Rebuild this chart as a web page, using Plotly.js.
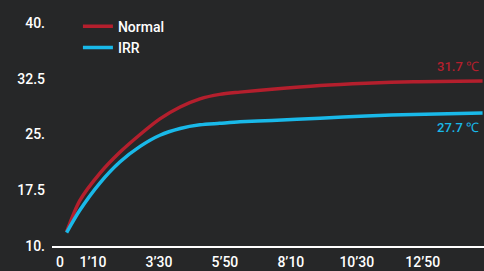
<!DOCTYPE html>
<html>
<head>
<meta charset="utf-8">
<script src="https://cdn.plot.ly/plotly-3.0.1.min.js"></script>
<style>
html,body{margin:0;padding:0;background:#262728;}
#chart{width:484px;height:271px;}
</style>
</head>
<body>
<div id="chart"></div>
<script>
// time in seconds
const timeNormal = [14, 42, 85, 127, 170, 212, 255, 297, 339, 382, 450, 552, 650, 750, 897];
const tempNormal = [11.9, 16.1, 19.8, 22.6, 25.0, 27.1, 28.7, 29.8, 30.4, 30.7, 31.1, 31.6, 31.9, 32.1, 32.2];
const timeIRR = [14, 42, 85, 127, 170, 212, 255, 297, 339, 382, 450, 552, 650, 750, 897];
const tempIRR = [11.8, 14.8, 18.5, 21.3, 23.4, 24.9, 25.8, 26.3, 26.5, 26.7, 26.9, 27.2, 27.5, 27.7, 27.9];
const seriesNames = ['Normal', 'IRR'];
const xTickVals = [0, 70, 210, 350, 490, 630, 770];
const xTickText = ['0', '1’10', '3’30', '5’50', '8’10', '10’30', '12’50'];
const yTickVals = [10, 17.5, 25, 32.5, 40];
const yTickText = ['10.', '17.5', '25.', '32.5', '40.'];
const endLabels = ['31.7 ℃', '27.7 ℃'];

const FONT = '"Roboto", "Liberation Sans", sans-serif';
const RED = '#b41f2d';
const BLUE = '#19b9e9';

const traces = [
  {x: timeNormal, y: tempNormal, name: seriesNames[0], mode: 'lines',
   line: {color: RED, width: 3.5, shape: 'spline', smoothing: 0.8}},
  {x: timeIRR, y: tempIRR, name: seriesNames[1], mode: 'lines',
   line: {color: BLUE, width: 3.5, shape: 'spline', smoothing: 0.8}}
];

const layout = {
  width: 484, height: 271,
  margin: {l: 52, r: 0, t: 23, b: 25},
  paper_bgcolor: '#262728',
  plot_bgcolor: '#262728',
  font: {family: FONT, color: '#ffffff', size: 14, weight: 500},
  showlegend: true,
  legend: {x: 0.06, y: 1.055, xanchor: 'left', yanchor: 'top',
    bgcolor: 'rgba(0,0,0,0)', font: {family: FONT, size: 14, color: '#ffffff', weight: 500},
    tracegroupgap: 0, itemwidth: 30},
  xaxis: {range: [-17, 900], tickvals: xTickVals, ticktext: xTickText,
    showgrid: false, zeroline: false, showline: true, linecolor: '#ffffff', linewidth: 2,
    ticks: '', ticklabelstandoff: 2,
    tickfont: {family: FONT, size: 14, color: '#ffffff', weight: 500}, fixedrange: true},
  yaxis: {range: [10, 40], tickvals: yTickVals, ticktext: yTickText,
    showgrid: false, zeroline: false, showline: false, ticks: '',
    ticklabelstandoff: 6,
    tickfont: {family: FONT, size: 14, color: '#ffffff', weight: 500}, fixedrange: true},
  annotations: [
    {x: 893, y: 34.2, xref: 'x', yref: 'y', text: endLabels[0], showarrow: false,
     xanchor: 'right', yanchor: 'middle', font: {family: FONT, size: 13, color: RED}},
    {x: 893, y: 25.9, xref: 'x', yref: 'y', text: endLabels[1], showarrow: false,
     xanchor: 'right', yanchor: 'middle', font: {family: FONT, size: 13, color: BLUE}}
  ]
};

Plotly.newPlot('chart', traces, layout, {displayModeBar: false, staticPlot: true});
</script>
</body>
</html>
